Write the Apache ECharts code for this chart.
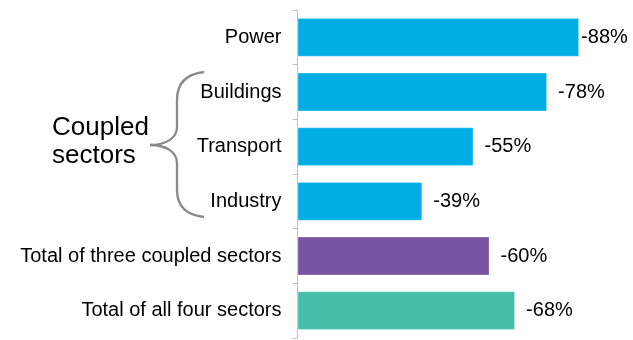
<!DOCTYPE html>
<html>
<head>
<meta charset="utf-8">
<script src="https://cdn.jsdelivr.net/npm/echarts@6/dist/echarts.min.js"></script>
<style>html,body{margin:0;padding:0;background:#fff;}#c{width:633px;height:340px;}</style>
</head>
<body>
<div id="c"></div>
<script>
const categories = ['Power', 'Buildings', 'Transport', 'Industry', 'Total of three coupled sectors', 'Total of all four sectors'];
const values = [-88, -78, -55, -39, -60, -68];
const colors = ['#00ADE4', '#00ADE4', '#00ADE4', '#00ADE4', '#7753A2', '#45BFAA'];
const bracketLabel = 'Coupled\nsectors';

const chart = echarts.init(document.getElementById('c'));
const font = '"Liberation Sans", Arial, sans-serif';
const braceStyle = { fill: null, stroke: '#8a8a8a', lineWidth: 2.3 };
function bez(x1, y1, cx1, cy1, cx2, cy2, x2, y2) {
  return { type: 'bezierCurve', shape: { x1, y1, cpx1: cx1, cpy1: cy1, cpx2: cx2, cpy2: cy2, x2, y2 }, style: braceStyle };
}
chart.setOption({
  animation: false,
  grid: { left: 297.5, right: 15.5, top: 10, bottom: 2, containLabel: false },
  xAxis: {
    type: 'value', min: -100, max: 0, inverse: true,
    show: false
  },
  yAxis: {
    type: 'category', data: categories, inverse: true,
    axisLine: { show: true, lineStyle: { color: '#bfbfbf', width: 1 } },
    axisTick: { show: true, length: 5, lineStyle: { color: '#bfbfbf' } },
    axisLabel: { margin: 16, color: '#000', fontSize: 20, fontFamily: font }
  },
  series: [{
    type: 'bar',
    barCategoryGap: '29%',
    data: values.map((v, i) => ({
      value: v,
      itemStyle: { color: colors[i] },
      label: { distance: i === 0 ? 2 : 11 }
    })),
    itemStyle: { borderColor: 'rgba(255,255,255,0.3)', borderWidth: 1 },
    label: {
      show: true, position: 'right', color: '#000', fontSize: 20, fontFamily: font,
      formatter: p => p.value + '%'
    }
  }],
  graphic: [
    bez(204, 72, 186, 74, 177, 84, 177, 100),
    { type: 'line', shape: { x1: 177, y1: 100, x2: 177, y2: 127 }, style: braceStyle },
    bez(177, 127, 177, 138, 166, 145, 150, 145),
    bez(150, 145, 166, 145, 177, 152, 177, 163),
    { type: 'line', shape: { x1: 177, y1: 163, x2: 177, y2: 190 }, style: braceStyle },
    bez(177, 190, 177, 206, 186, 215, 204, 217),
    {
      type: 'text', left: 52, top: 114,
      style: { text: bracketLabel, fontSize: 26, lineHeight: 28, fontFamily: font, fill: '#000' }
    }
  ]
});
</script>
</body>
</html>
